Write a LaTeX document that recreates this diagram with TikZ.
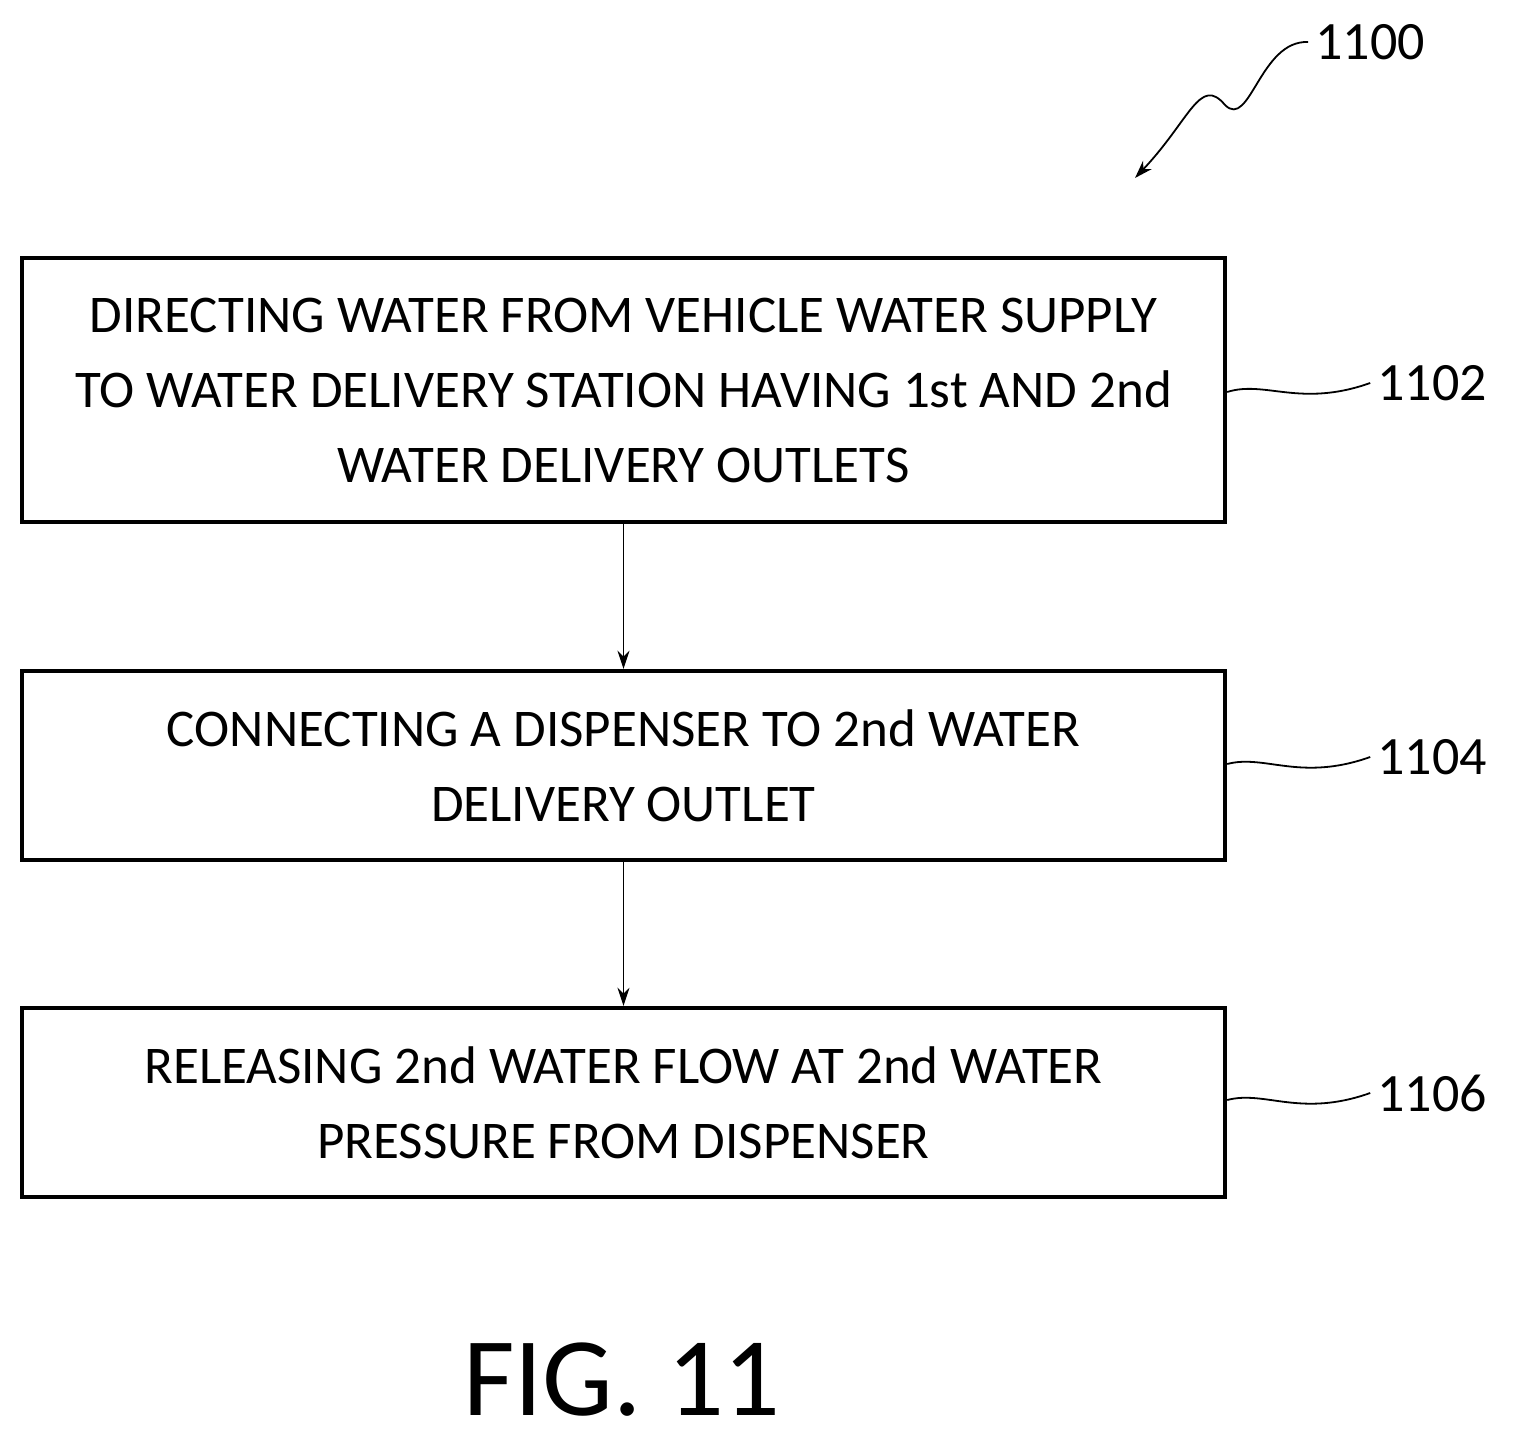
\documentclass[tikz,border=0pt]{standalone}
\usepackage{fontspec}
\setmainfont{Carlito}
\usetikzlibrary{arrows.meta}
\begin{document}
\begin{tikzpicture}[x=0.5pt,y=-0.5pt,
 box/.style={draw,line width=2.2pt,align=center,font=\fontsize{26.5}{37.5}\selectfont,inner sep=0pt},
 lab/.style={font=\fontsize{27}{32}\selectfont},
 arr/.style={-{Stealth[length=9pt,width=6pt]},line width=0.9pt}]
\useasboundingbox (0,0) rectangle (1514,1443);
\node[box,minimum width=601.5pt,minimum height=132pt] (b1) at (623.5,390) {DIRECTING WATER FROM VEHICLE WATER SUPPLY\\TO WATER DELIVERY STATION HAVING 1st AND 2nd\\WATER DELIVERY OUTLETS};
\node[box,minimum width=601.5pt,minimum height=94.5pt] (b2) at (623.5,765.5) {CONNECTING A DISPENSER TO 2nd WATER\\DELIVERY OUTLET};
\node[box,minimum width=601.5pt,minimum height=94.5pt] (b3) at (623.5,1102.5) {RELEASING 2nd WATER FLOW AT 2nd WATER\\PRESSURE FROM DISPENSER};
\draw[arr] (b1.south) -- (b2.north);
\draw[arr] (b2.south) -- (b3.north);
\node[lab] (l2) at (1432,383) {1102};
\node[lab] (l4) at (1432,757) {1104};
\node[lab] (l6) at (1432,1093) {1106};
\node[lab] (l0) at (1370,42) {1100};
\draw[line width=0.9pt] (b1.east |- 0,392) .. controls (1265,380) and (1300,408) .. (l2.west);
\draw[line width=0.9pt] (b2.east |- 0,764) .. controls (1265,754) and (1300,782) .. (l4.west);
\draw[line width=0.9pt] (b3.east |- 0,1100) .. controls (1265,1090) and (1300,1118) .. (l6.west);
\coordinate (t0) at (1135,178);
\draw[arr] (l0.west) .. controls (1260,40) and (1250,130) .. (1225,105) .. controls (1200,75) and (1190,120) .. (t0);
\node[font=\fontsize{56}{60}\selectfont] (fig) at (622,1380) {FIG. 11};
\end{tikzpicture}
\end{document}
